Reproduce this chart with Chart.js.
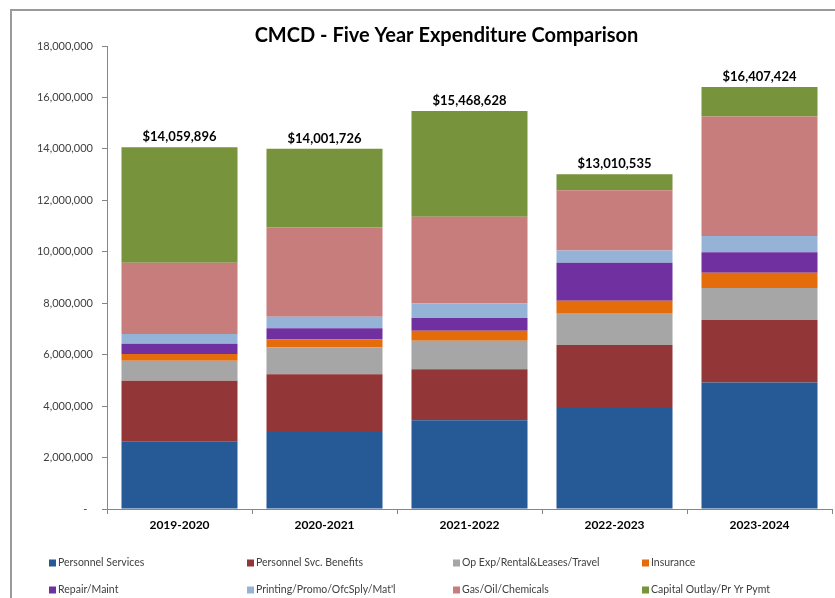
<!DOCTYPE html>
<html>
<head>
<meta charset="utf-8">
<script src="https://cdn.jsdelivr.net/npm/chart.js@4.4.1/dist/chart.umd.min.js"></script>
<style>
  html, body { margin: 0; padding: 0; background: #ffffff; overflow: hidden; }
  canvas { display: block; }
</style>
</head>
<body>
<canvas id="chart" width="835" height="598"></canvas>
<script>
// Fiscal years on the category axis
const years = ['2019-2020', '2020-2021', '2021-2022', '2022-2023', '2023-2024'];

// Expenditure by category, in dollars (stacked bottom to top)
const personnelServices     = [2630000, 3030000, 3450000, 3970000, 4920000];
const personnelSvcBenefits  = [2360000, 2210000, 1980000, 2410000, 2430000];
const opExpRentalTravel     = [ 770000, 1040000, 1110000, 1240000, 1240000];
const insurance             = [ 270000,  320000,  390000,  480000,  590000];
const repairMaint           = [ 390000,  430000,  500000, 1470000,  800000];
const printingPromoSupply   = [ 380000,  440000,  560000,  480000,  630000];
const gasOilChemicals       = [2770000, 3480000, 3370000, 2340000, 4650000];
const capitalOutlay         = [4489896, 3051726, 4108628,  620535, 1147424];

// Value axis ticks and their labels
const yTickValues = [0, 2000000, 4000000, 6000000, 8000000, 10000000, 12000000, 14000000, 16000000, 18000000];
const yTickLabels = ['-  ', '2,000,000', '4,000,000', '6,000,000', '8,000,000', '10,000,000', '12,000,000', '14,000,000', '16,000,000', '18,000,000'];

const seriesNames = [
  'Personnel Services', 'Personnel Svc. Benefits', 'Op Exp/Rental&Leases/Travel', 'Insurance',
  'Repair/Maint', 'Printing/Promo/OfcSply/Mat\'l', 'Gas/Oil/Chemicals', 'Capital Outlay/Pr Yr Pymt'
];
const seriesData = [
  personnelServices, personnelSvcBenefits, opExpRentalTravel, insurance,
  repairMaint, printingPromoSupply, gasOilChemicals, capitalOutlay
];
const seriesColors = ['#255A96', '#933638', '#A6A6A6', '#E46C0A', '#7030A0', '#95B3D7', '#C87D7D', '#77933C'];

const TITLE = 'CMCD - Five Year Expenditure Comparison';
const FONT = 'Lato, "Open Sans", "DejaVu Sans", sans-serif';

function withCommas(n) {
  return String(Math.round(n)).replace(/\B(?=(\d{3})+(?!\d))/g, ',');
}

// Frame, title, bar totals and the legend grid
const decorations = {
  id: 'decorations',
  beforeDraw(chart) {
    const ctx = chart.ctx;
    ctx.save();
    ctx.fillStyle = '#ffffff';
    ctx.fillRect(0, 0, chart.width, chart.height);
    ctx.strokeStyle = '#9a9a9a';
    ctx.lineWidth = 2;
    ctx.beginPath();
    ctx.moveTo(11, chart.height + 2);
    ctx.lineTo(11, 10);
    ctx.lineTo(chart.width + 2, 10);
    ctx.stroke();
    ctx.restore();
  },
  afterDraw(chart) {
    const ctx = chart.ctx;
    ctx.save();

    // Title
    ctx.fillStyle = '#000000';
    ctx.font = 'bold 20px ' + FONT;
    ctx.textAlign = 'center';
    ctx.textBaseline = 'alphabetic';
    ctx.fillText(TITLE, 446.5, 42);

    // Totals above each stacked bar
    const lastMeta = chart.getDatasetMeta(chart.data.datasets.length - 1);
    ctx.font = 'bold 13px ' + FONT;
    chart.data.labels.forEach((_, i) => {
      const total = chart.data.datasets.reduce((s, ds) => s + ds.data[i], 0);
      const bar = lastMeta.data[i];
      ctx.fillText('$' + withCommas(total), bar.x, bar.y - 6);
    });

    // Legend: two rows of four entries
    const colX = [49, 247, 453, 642];
    const rowY = [563, 590];
    ctx.font = '10.5px ' + FONT;
    ctx.textAlign = 'left';
    ctx.textBaseline = 'middle';
    chart.data.datasets.forEach((ds, k) => {
      const x = colX[k % 4];
      const y = rowY[Math.floor(k / 4)];
      ctx.fillStyle = ds.backgroundColor;
      ctx.fillRect(x, y - 3.5, 7, 7);
      ctx.fillStyle = '#404040';
      ctx.fillText(ds.label, x + 9, y);
    });
    ctx.restore();
  }
};

new Chart(document.getElementById('chart'), {
  type: 'bar',
  data: {
    labels: years,
    datasets: seriesNames.map((name, k) => ({
      label: name,
      data: seriesData[k],
      backgroundColor: seriesColors[k],
      borderWidth: 0,
      barPercentage: 0.8,
      categoryPercentage: 1.0
    }))
  },
  options: {
    responsive: false,
    animation: false,
    devicePixelRatio: 1,
    layout: { padding: { top: 46, right: 3, left: 0, bottom: 0 } },
    plugins: {
      legend: { display: false },
      title: { display: false },
      tooltip: { enabled: false }
    },
    scales: {
      x: {
        stacked: true,
        offset: true,
        grid: { display: true, drawOnChartArea: false, drawTicks: true, tickLength: 5, color: '#868686', offset: true },
        border: { display: true, color: '#868686', width: 1 },
        ticks: { color: '#000000', font: { family: FONT, size: 12, weight: 'bold' }, padding: 4, maxRotation: 0 },
        afterFit(scale) { scale.height = 89; }
      },
      y: {
        stacked: true,
        min: 0,
        max: 18000000,
        grid: { display: true, drawOnChartArea: false, drawTicks: true, tickLength: 5, color: '#868686' },
        border: { display: true, color: '#868686', width: 1 },
        afterBuildTicks(scale) { scale.ticks = yTickValues.map(v => ({ value: v })); },
        ticks: {
          color: '#404040',
          font: { family: FONT, size: 11 },
          padding: 9,
          callback(value) {
            const idx = yTickValues.indexOf(value);
            return idx >= 0 ? yTickLabels[idx] : '';
          }
        },
        afterFit(scale) { scale.width = 107; }
      }
    }
  },
  plugins: [decorations]
});
</script>
</body>
</html>
